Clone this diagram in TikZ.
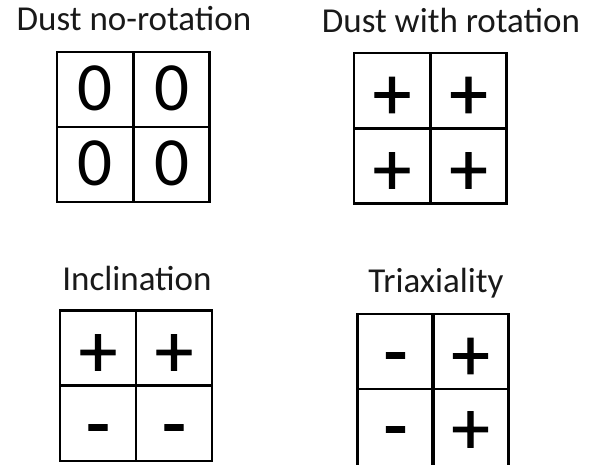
\documentclass[tikz,border=0pt]{standalone}
\usepackage{fontspec}
\setmainfont{Carlito}
\newfontfamily\symfnt[FakeBold=1.3]{Carlito}
\begin{document}
\begin{tikzpicture}[x=1pt,y=-1pt,
  cell/.style={draw=black,line width=2.6pt,minimum width=76pt,minimum height=75pt,inner sep=0pt},
  zr/.style={cell,font=\fontsize{69}{69}\selectfont,text height=41pt,text depth=0pt},
  pl/.style={cell,font=\symfnt\fontsize{76}{76}\selectfont,text height=57pt,text depth=0pt},
  mi/.style={cell,font=\symfnt\fontsize{78}{78}\selectfont,text height=52pt,text depth=0pt},
  ttl/.style={anchor=base,inner sep=0pt,font=\fontsize{35}{35}\selectfont,text=black!90}]
\useasboundingbox (0,0) rectangle (592,464);
% Dust no-rotation
\node[ttl] (t1) at (134,30) {Dust no-rotation};
\node[zr] (a11) at (95,89.5) {0};
\node[zr] (a12) at (171.5,89.5) {0};
\node[zr] (a21) at (95,164.5) {0};
\node[zr] (a22) at (171.5,164.5) {0};
% Dust with rotation
\node[ttl] (t2) at (451,32) {Dust with rotation};
\node[pl] (b11) at (392,90.5) {+};
\node[pl] (b12) at (468.5,90.5) {+};
\node[pl] (b21) at (392,166) {+};
\node[pl] (b22) at (468.5,166) {+};
% Inclination
\node[ttl] (t3) at (137,290) {Inclination};
\node[pl] (c11) at (98,348) {+};
\node[pl] (c12) at (174,348) {+};
\node[mi] (c21) at (98,423.5) {-};
\node[mi] (c22) at (174,423.5) {-};
% Triaxiality
\node[ttl] (t4) at (436,292) {Triaxiality};
\node[mi] (d11) at (395.5,351.5) {-};
\node[pl] (d12) at (470.5,351.5) {+};
\node[mi,minimum height=80pt,text height=45pt] (d21) at (395.5,429) {-};
\node[pl,minimum height=80pt,text height=49pt] (d22) at (470.5,429) {+};
\end{tikzpicture}
\end{document}
